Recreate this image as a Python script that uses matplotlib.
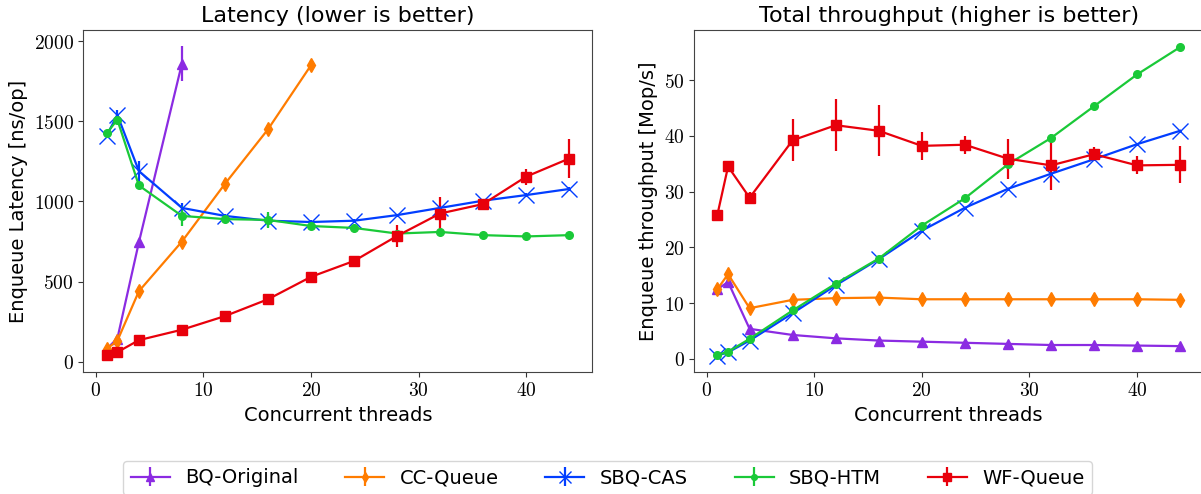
import matplotlib
matplotlib.use("Agg")
import matplotlib.pyplot as plt
from matplotlib.ticker import FuncFormatter

plt.rcParams['mathtext.fontset'] = 'cm'
plt.rcParams['font.family'] = ['DejaVu Sans']

threads = [1, 2, 4, 8, 12, 16, 20, 24, 28, 32, 36, 40, 44]
names = ["BQ-Original", "CC-Queue", "SBQ-CAS", "SBQ-HTM", "WF-Queue"]

# Latency [ns/op]
lat_bq = [80, 145, 745, 1860]
lat_bq_err = [5, 10, 20, 110]
lat_cc = [80, 131, 440, 750, 1110, 1450, 1850]
lat_cc_err = [10, 15, 30, 25, 25, 25, 30]
lat_cas = [1410, 1540, 1190, 960, 910, 880, 872, 880, 915, 960, 1005, 1040, 1078]
lat_cas_err = [0, 30, 60, 30, 15, 40, 10, 10, 10, 15, 10, 10, 10]
lat_htm = [1425, 1510, 1100, 910, 890, 885, 847, 835, 800, 810, 790, 782, 790]
lat_htm_err = [0, 10, 10, 60, 20, 50, 10, 10, 10, 10, 5, 5, 5]
lat_wf = [40, 60, 135, 200, 285, 390, 530, 629, 785, 925, 984, 1155, 1268]
lat_wf_err = [5, 5, 10, 10, 15, 30, 15, 10, 70, 105, 30, 50, 120]

# Throughput [Mop/s]
thr_bq = [12.5, 13.8, 5.4, 4.3, 3.7, 3.3, 3.1, 2.9, 2.7, 2.5, 2.5, 2.4, 2.3]
thr_bq_err = [0.3, 0.3, 0.2, 0.1, 0.1, 0.1, 0.1, 0.1, 0.1, 0.1, 0.1, 0.1, 0.1]
thr_cc = [12.5, 15.2, 9.1, 10.6, 10.9, 11.0, 10.7, 10.7, 10.7, 10.7, 10.7, 10.7, 10.6]
thr_cc_err = [0.6, 0.6, 0.6, 0.3, 0.3, 0.3, 0.3, 0.3, 0.3, 0.3, 0.3, 0.3, 0.3]
thr_cas = [0.6, 1.2, 3.3, 8.2, 13.2, 17.9, 23.0, 27.1, 30.5, 33.2, 35.8, 38.5, 40.9]
thr_cas_err = [0.1, 0.1, 0.1, 0.2, 0.2, 0.4, 0.2, 0.2, 0.2, 0.2, 0.2, 0.2, 0.2]
thr_htm = [0.7, 1.3, 3.6, 8.7, 13.5, 18.0, 23.9, 28.8, 34.9, 39.6, 45.3, 51.0, 55.9]
thr_htm_err = [0.1, 0.1, 0.1, 0.2, 0.2, 0.5, 0.2, 0.2, 0.2, 0.7, 0.2, 0.2, 0.2]
thr_wf = [25.8, 34.5, 28.9, 39.2, 41.9, 40.9, 38.2, 38.4, 35.9, 34.7, 36.7, 34.7, 34.8]
thr_wf_err = [0.3, 0.3, 1.0, 3.8, 4.7, 4.6, 2.5, 1.6, 3.6, 4.4, 1.3, 1.6, 3.3]

colors = ['#8b2be2', '#ff7c00', '#023eff', '#1ac938', '#e8000b']
markers = ['^', 'd', 'x', 'o', 's']
msizes = [7, 7, 11, 5.5, 7.5]

fig = plt.figure(figsize=(12.01, 4.94), dpi=100)
ax1 = fig.add_axes([0.0695, 0.2476, 0.4237, 0.6907])
ax2 = fig.add_axes([0.578, 0.2476, 0.4239, 0.6907])

lat = [(lat_bq, lat_bq_err), (lat_cc, lat_cc_err), (lat_cas, lat_cas_err),
       (lat_htm, lat_htm_err), (lat_wf, lat_wf_err)]
thr = [(thr_bq, thr_bq_err), (thr_cc, thr_cc_err), (thr_cas, thr_cas_err),
       (thr_htm, thr_htm_err), (thr_wf, thr_wf_err)]

handles = []
for i, name in enumerate(names):
    y, e = lat[i]
    h = ax1.errorbar(threads[:len(y)], y, yerr=e, color=colors[i], marker=markers[i],
                     markersize=msizes[i], lw=1.6, elinewidth=1.6, capsize=0, label=name)
    handles.append(h)
    y, e = thr[i]
    ax2.errorbar(threads[:len(y)], y, yerr=e, color=colors[i], marker=markers[i],
                 markersize=msizes[i], lw=1.6, elinewidth=1.6, capsize=0, label=name)

fmt = FuncFormatter(lambda v, p: r'$%g$' % v)
for ax in (ax1, ax2):
    ax.xaxis.set_major_formatter(fmt)
    ax.yaxis.set_major_formatter(fmt)
    ax.tick_params(labelsize=14, colors='#333333', labelcolor='black')
    for s in ax.spines.values():
        s.set_color('#444444')
    ax.set_xlabel("Concurrent threads", fontsize=14)

ax1.set_ylabel("Enqueue Latency [ns/op]", fontsize=14)
ax2.set_ylabel("Enqueue throughput [Mop/s]", fontsize=14)
ax1.set_title("Latency (lower is better)", fontsize=16)
ax2.set_title("Total throughput (higher is better)", fontsize=16)
ax1.set_yticks([0, 500, 1000, 1500, 2000])

fig.legend(handles, names, loc='upper center', bbox_to_anchor=(0.506, 0.0674),
           borderaxespad=0, ncol=5, fontsize=14, columnspacing=2.4,
           handlelength=2.0, markerscale=0.75)

fig.savefig("out.png", dpi=100)
